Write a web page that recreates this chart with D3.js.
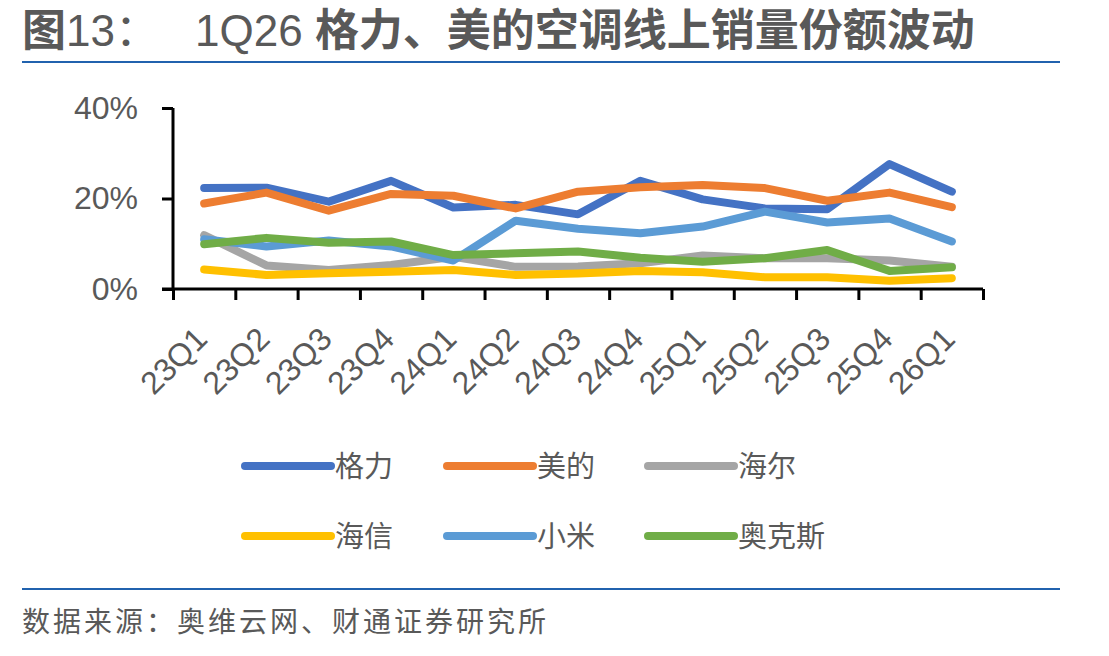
<!DOCTYPE html>
<html>
<head>
<meta charset="utf-8">
<script src="https://cdn.jsdelivr.net/npm/d3@7"></script>
<style>
    body { margin: 0; background: #fff; }
    text { font-family: "Liberation Sans", Arial, "Noto Sans CJK SC", sans-serif; fill: #595959; }
</style>
</head>
<body>
<svg id="chart"></svg>
<script>
// quarters on the x axis
const quarters = ["23Q1", "23Q2", "23Q3", "23Q4", "24Q1", "24Q2", "24Q3", "24Q4", "25Q1", "25Q2", "25Q3", "25Q4", "26Q1"];

// online AC sales share, %
const gree    = [22.3, 22.4, 19.3, 23.9, 18.0, 18.6, 16.5, 23.9, 19.8, 17.8, 17.6, 27.6, 21.5];
const midea   = [18.9, 21.3, 17.3, 21.0, 20.6, 17.8, 21.5, 22.5, 23.0, 22.3, 19.5, 21.3, 18.1];
const haier   = [11.9,  5.2,  4.2,  5.3,  7.1,  4.9,  5.0,  5.7,  7.4,  6.8,  6.8,  6.3,  4.9];
const hisense = [ 4.3,  3.1,  3.5,  3.8,  4.2,  3.1,  3.4,  4.0,  3.7,  2.6,  2.6,  1.8,  2.4];
const xiaomi  = [11.0,  9.4, 10.7,  9.4,  6.3, 15.1, 13.3, 12.3, 13.8, 17.1, 14.7, 15.6, 10.5];
const aux     = [ 9.9, 11.3, 10.2, 10.5,  7.5,  7.9,  8.3,  6.9,  6.0,  6.8,  8.6,  4.0,  4.8];

const seriesNames = ["格力", "美的", "海尔", "海信", "小米", "奥克斯"];
const seriesColors = ["#4472C4", "#ED7D31", "#A5A5A5", "#FFC000", "#5B9BD5", "#70AD47"];
const yTicks = [0, 20, 40];

const series = [gree, midea, haier, hisense, xiaomi, aux].map((values, i) => ({
    name: seriesNames[i],
    color: seriesColors[i],
    values: values
}));

const width = 1109, height = 656;
const svg = d3.select("#chart").attr("width", width).attr("height", height);

// title: latin digits regular, chinese heavier
const title = svg.append("text")
    .attr("y", 46)
    .style("font-size", "44px");
title.append("tspan").attr("x", 22).style("font-weight", 600).text("图");
title.append("tspan").text("13：");
title.append("tspan").attr("x", 195).text("1Q26 ");
title.append("tspan").style("font-weight", 600).text("格力、美的空调线上销量份额波动");

// blue rules
svg.append("line").attr("x1", 22).attr("x2", 1060).attr("y1", 62).attr("y2", 62)
    .attr("stroke", "#2162AE").attr("stroke-width", 2);
svg.append("line").attr("x1", 22).attr("x2", 1060).attr("y1", 589).attr("y2", 589)
    .attr("stroke", "#2162AE").attr("stroke-width", 2);

// footer
svg.append("text")
    .attr("x", 22).attr("y", 632)
    .style("font-size", "28px")
    .style("letter-spacing", "3px")
    .text("数据来源：奥维云网、财通证券研究所");

// scales
const xScale = d3.scaleBand().domain(quarters).range([173, 983]).padding(0);
const xEdge = d3.scaleLinear().domain([0, quarters.length]).range([173, 983]);
const yScale = d3.scaleLinear().domain([0, 40]).range([289, 108]);

// y axis
const yAxis = svg.append("g")
    .attr("transform", "translate(173,0)")
    .call(d3.axisLeft(yScale).tickValues(yTicks).tickSize(11).tickPadding(24)
        .tickFormat(d => d + "%"));
yAxis.select(".domain").attr("stroke", "#000").attr("stroke-width", 3)
    .attr("d", "M0,108V289");
yAxis.selectAll(".tick line").attr("stroke", "#000").attr("stroke-width", 3);
yAxis.selectAll(".tick text")
    .style("font-size", "32px")
    .attr("fill", "#595959");

// x axis: ticks on category boundaries
const xAxis = svg.append("g")
    .attr("transform", "translate(0,289)")
    .call(d3.axisBottom(xEdge).tickValues(d3.range(quarters.length + 1)).tickSize(11).tickFormat(""));
xAxis.select(".domain").attr("stroke", "#000").attr("stroke-width", 3)
    .attr("d", "M162,0H983");
xAxis.selectAll(".tick line").attr("stroke", "#000").attr("stroke-width", 3);

svg.append("g").selectAll("text")
    .data(quarters)
    .join("text")
    .attr("transform", d => `translate(${xScale(d) + xScale.bandwidth() / 2 + 5},341) rotate(-45)`)
    .attr("text-anchor", "end")
    .style("font-size", "32px")
    .text(d => d);

// lines
const line = d3.line()
    .x((d, i) => xScale(quarters[i]) + xScale.bandwidth() / 2)
    .y(d => yScale(d));

svg.append("g").selectAll("path")
    .data(series)
    .join("path")
    .attr("d", d => line(d.values))
    .attr("fill", "none")
    .attr("stroke", d => d.color)
    .attr("stroke-width", 8)
    .attr("stroke-linejoin", "round")
    .attr("stroke-linecap", "round");

// legend
const legendCols = [245, 447, 648];
const legendRows = [466, 536];
const legend = svg.append("g").selectAll("g")
    .data(series)
    .join("g")
    .attr("transform", (d, i) => `translate(${legendCols[i % 3]},${legendRows[Math.floor(i / 3)]})`);

legend.append("line")
    .attr("x1", 0).attr("x2", 86)
    .attr("stroke", d => d.color)
    .attr("stroke-width", 8)
    .attr("stroke-linecap", "round");

legend.append("text")
    .attr("x", 90).attr("y", 11)
    .style("font-size", "29px")
    .text(d => d.name);
</script>
</body>
</html>
